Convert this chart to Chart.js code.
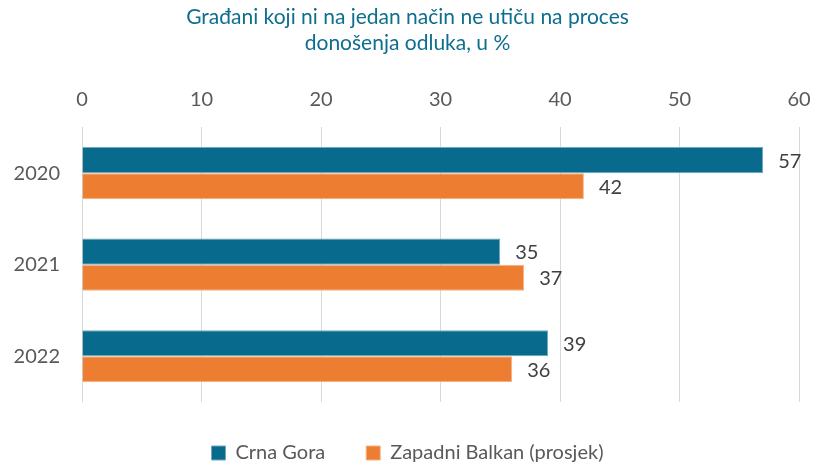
<!DOCTYPE html>
<html>
<head>
<meta charset="utf-8">
<script src="https://cdn.jsdelivr.net/npm/chart.js@4"></script>
<style>
  html, body { margin: 0; padding: 0; background: #fff; }
  #wrap { width: 815px; height: 465px; position: relative; }
</style>
</head>
<body>
<div id="wrap"><canvas id="chart"></canvas></div>
<script>
const years = ["2020", "2021", "2022"];
const crnaGora = [57, 35, 39];
const zapadniBalkan = [42, 37, 36];
const seriesNames = ["Crna Gora", "Zapadni Balkan (prosjek)"];
const xTicks = [0, 10, 20, 30, 40, 50, 60];

const FONT = "Lato, 'Open Sans', sans-serif";

// draw values next to the end of each bar
const barValues = {
  id: "barValues",
  afterDatasetsDraw(chart) {
    const ctx = chart.ctx;
    ctx.save();
    ctx.font = "20px " + FONT;
    ctx.fillStyle = "#404040";
    ctx.textBaseline = "middle";
    ctx.textAlign = "left";
    chart.data.datasets.forEach((ds, i) => {
      chart.getDatasetMeta(i).data.forEach((bar, j) => {
        ctx.fillText(ds.data[j], bar.x + 15, bar.y + 1);
      });
    });
    ctx.restore();
  }
};

// keep the legend block a fixed height so the plot ends where it should
const legendHeight = {
  id: "legendHeight",
  afterInit(chart) {
    const legend = chart.legend;
    const fit = legend.fit;
    legend.fit = function () {
      fit.call(this);
      this.height = 63;
    };
  }
};

const ctx = document.getElementById("chart").getContext("2d");
new Chart(ctx, {
  type: "bar",
  data: {
    labels: years,
    datasets: [
      {
        label: seriesNames[0],
        data: crnaGora,
        backgroundColor: "#086b8d",
        borderColor: "#6fa9bd",
        borderWidth: 1
      },
      {
        label: seriesNames[1],
        data: zapadniBalkan,
        backgroundColor: "#ed7d31",
        borderColor: "#f4b183",
        borderWidth: 1
      }
    ]
  },
  options: {
    indexAxis: "y",
    responsive: true,
    maintainAspectRatio: false,
    animation: false,
    datasets: { bar: { categoryPercentage: 0.57, barPercentage: 1 } },
    layout: { padding: 0 },
    scales: {
      x: {
        position: "top",
        min: 0,
        max: 60,
        afterBuildTicks: axis => { axis.ticks = xTicks.map(v => ({ value: v })); },
        afterFit: axis => { axis.paddingLeft = 0; axis.paddingRight = 16; },
        grid: { color: "#d9d9d9", lineWidth: 1, drawTicks: false },
        border: { display: false },
        ticks: { color: "#595959", font: { family: FONT, size: 20 }, padding: 16 }
      },
      y: {
        afterFit: axis => { axis.width = 82; },
        grid: { display: false, drawTicks: false },
        border: { display: false },
        ticks: { color: "#595959", font: { family: FONT, size: 20 }, padding: 22 }
      }
    },
    plugins: {
      title: {
        display: true,
        text: ["Građani koji ni na jedan način ne utiču na proces", "donošenja odluka, u %"],
        color: "#0e6e8e",
        font: { family: FONT, size: 21, weight: "normal" },
        lineHeight: 1.33,
        padding: { top: 5, bottom: 16 }
      },
      legend: {
        position: "bottom",
        labels: {
          color: "#595959",
          font: { family: FONT, size: 20 },
          boxWidth: 14,
          boxHeight: 14,
          padding: 41,
          useBorderRadius: false
        }
      },
      tooltip: { enabled: false }
    }
  },
  plugins: [barValues, legendHeight]
});
</script>
</body>
</html>
